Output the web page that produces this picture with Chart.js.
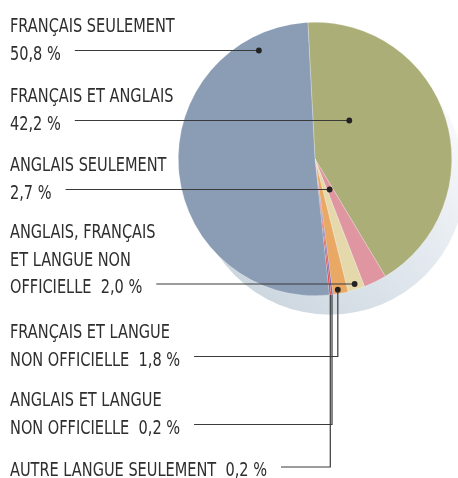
<!DOCTYPE html>
<html>
<head>
<meta charset="utf-8">
<script src="https://cdn.jsdelivr.net/npm/chart.js@4/dist/chart.umd.min.js"></script>
<style>
  body { margin: 0; background: #fff; }
</style>
</head>
<body>
<canvas id="LangueChart" width="458" height="478"></canvas>
<script>
// Connaissance des langues officielles (%)
var categories = [
  'Français et anglais',
  'Anglais seulement',
  'Anglais, français et langue non officielle',
  'Français et langue non officielle',
  'Anglais et langue non officielle',
  'Autre langue seulement',
  'Français seulement'
];
var shares = [42.2, 2.7, 2.0, 1.8, 0.2, 0.2, 50.8];
// texte des étiquettes ('' = pourcentage sur sa propre ligne)
var labelLines = [
  ['FRANÇAIS ET ANGLAIS', ''],
  ['ANGLAIS SEULEMENT', ''],
  ['ANGLAIS, FRANÇAIS', 'ET LANGUE NON', 'OFFICIELLE'],
  ['FRANÇAIS ET LANGUE', 'NON OFFICIELLE'],
  ['ANGLAIS ET LANGUE', 'NON OFFICIELLE'],
  ['AUTRE LANGUE SEULEMENT'],
  ['FRANÇAIS SEULEMENT', '']
];
var sliceColors = ['#abae77', '#df96a0', '#e5d9ac', '#e9a864', '#7b5aa6', '#d9363a', '#8a9db4'];

// placement des étiquettes (de haut en bas)
var callouts = [
  {i: 6, y: 32,  frac: 0.867, mode: 'h'},
  {i: 0, y: 102, frac: 0.294, mode: 'h'},
  {i: 1, y: 171, frac: 0.55,  mode: 'h'},
  {i: 2, y: 238, frac: 0.5,   mode: 'h'},
  {i: 3, y: 338, frac: 0.63,  mode: 'v', rf: 0.97, dot: true},
  {i: 4, y: 406, frac: 0.5,   mode: 'v', rf: 1.0,  dot: false},
  {i: 5, y: 476, frac: 0.5,   mode: 'v', rf: 1.0,  dot: false}
];
var lineHeight = 27.5;
var textFont = '20px "Liberation Sans Narrow", "DejaVu Sans Condensed", sans-serif';
var refWidth = 257; // largeur de « AUTRE LANGUE SEULEMENT  0,2 % »

function pct(v) {
  return v.toFixed(1).replace('.', ',') + ' %';
}

var shadowPlugin = {
  id: 'shadow',
  beforeDatasetsDraw: function(chart) {
    var arc = chart.getDatasetMeta(0).data[0];
    var ctx = chart.ctx;
    var x = arc.x + 15, y = arc.y + 21, r = arc.outerRadius * 0.985;
    var g = ctx.createLinearGradient(x - r * 0.7, y + r * 0.7, x + r * 0.7, y - r * 0.7);
    g.addColorStop(0, '#cdd7e0');
    g.addColorStop(0.55, '#e3e9ef');
    g.addColorStop(1, '#f8f9fb');
    ctx.save();
    ctx.beginPath();
    ctx.arc(x, y, r, 0, Math.PI * 2);
    ctx.fillStyle = g;
    ctx.fill();
    ctx.restore();
  }
};

var calloutPlugin = {
  id: 'callouts',
  afterDatasetsDraw: function(chart) {
    var ctx = chart.ctx;
    var meta = chart.getDatasetMeta(0);
    ctx.save();
    ctx.font = textFont;
    ctx.textBaseline = 'alphabetic';
    ctx.textAlign = 'left';
    var sx = refWidth / ctx.measureText('AUTRE LANGUE SEULEMENT  0,2 %').width;
    callouts.forEach(function(c) {
      var lines = labelLines[c.i].slice();
      var last = lines.length - 1;
      lines[last] = lines[last] === '' ? pct(shares[c.i]) : lines[last] + '  ' + pct(shares[c.i]);
      ctx.fillStyle = '#2e2e2e';
      lines.forEach(function(t, k) {
        ctx.save();
        ctx.translate(10, c.y + k * lineHeight);
        ctx.scale(sx, 1);
        ctx.fillText(t, 0, 0);
        ctx.restore();
      });
      var baseY = c.y + last * lineHeight;
      var lineY = baseY - 9;
      var x0 = 10 + ctx.measureText(lines[last]).width * sx + 14;

      var el = meta.data[c.i];
      var r = el.outerRadius;
      var a = el.startAngle + c.frac * (el.endAngle - el.startAngle);
      var px, py;
      if (c.mode === 'h') {
        var t = (lineY - el.y) / Math.sin(a);
        t = Math.max(0.2 * r, Math.min(0.97 * r, t));
        px = el.x + t * Math.cos(a);
        py = el.y + t * Math.sin(a);
      } else {
        px = el.x + c.rf * r * Math.cos(a);
        py = el.y + c.rf * r * Math.sin(a);
      }
      ctx.strokeStyle = '#3a3a3a';
      ctx.lineWidth = 1.2;
      ctx.beginPath();
      ctx.moveTo(x0, lineY);
      ctx.lineTo(px, lineY);
      ctx.lineTo(px, py);
      ctx.stroke();
      if (c.mode === 'h' || c.dot) {
        ctx.fillStyle = '#222222';
        ctx.beginPath();
        ctx.arc(px, py, 2.9, 0, Math.PI * 2);
        ctx.fill();
      }
    });
    ctx.restore();
  }
};

var ctx = document.getElementById('LangueChart').getContext('2d');
var myChart = new Chart(ctx, {
  type: 'pie',
  data: {
    labels: categories,
    datasets: [{
      data: shares,
      backgroundColor: sliceColors,
      borderColor: 'rgba(255,255,255,0.5)',
      borderWidth: 0.5
    }]
  },
  options: {
    responsive: false,
    animation: false,
    rotation: -3,
    layout: {padding: {left: 178, right: 6, top: 22, bottom: 182}},
    plugins: {
      legend: {display: false},
      tooltip: {enabled: false}
    }
  },
  plugins: [shadowPlugin, calloutPlugin]
});
</script>
</body>
</html>
